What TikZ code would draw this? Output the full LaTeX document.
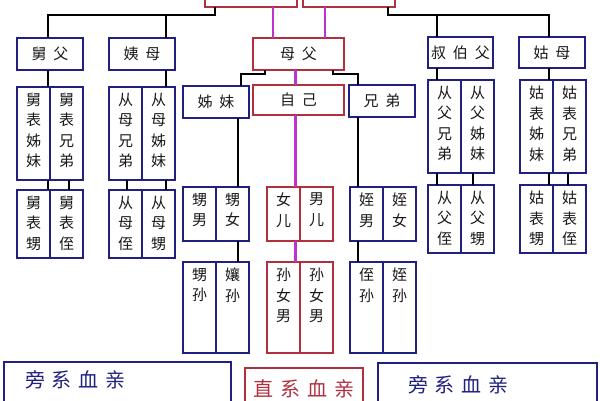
\documentclass[tikz,border=0pt]{standalone}
\usepackage{fontspec}
\newfontfamily\cjk{Noto Sans CJK SC}
\definecolor{kinblue}{RGB}{32,32,128}
\definecolor{kinred}{RGB}{176,48,64}
\definecolor{kinpink}{RGB}{190,50,205}
\definecolor{kingray}{RGB}{25,25,25}
\newcommand{\kinfont}{\cjk\fontsize{15}{20.5}\selectfont}
\newcommand{\bigkin}{\cjk\fontsize{20}{24}\selectfont}
\newcommand{\gap}{\hspace{7pt}}
\newcommand{\colbox}[2]{\parbox[c][#1][t]{33pt}{\centering\vspace*{6pt}#2}}

\begin{document}
\begin{tikzpicture}[x=1pt, y=-1pt,
  side/.style={draw=kinblue, line width=2pt, fill=white, inner sep=0pt, outer sep=0pt, text=kingray, font=\kinfont},
  direct/.style={side, draw=kinred},
  head/.style={minimum width=66pt, minimum height=32pt, anchor=north west},
  link/.style={line width=2pt, black},
  dlink/.style={line width=2.2pt, kinpink}]
\useasboundingbox (0,0) rectangle (600,400);
\clip (0,0) rectangle (600,400);

% top generation
\node[direct, minimum width=92pt, minimum height=30pt, anchor=south west] (fuqin) at (205,7) {};
\node[direct, minimum width=92pt, minimum height=30pt, anchor=south west] (muqin) at (303,7) {};

% heads
\node[side, head] (jiufu) at (17,38) {舅\gap 父};
\node[side, head] (yimu) at (109,38) {姨\gap 母};
\node[direct, head, minimum width=91pt] (mufu) at (253,38) {母\gap 父};
\node[side, head] (zimei) at (183,86) {姊\gap 妹};
\node[direct, head, minimum width=91pt, minimum height=30pt] (ziji) at (253,85) {自\gap 己};
\node[side, head] (xiongdi) at (349,85) {兄\gap 弟};
\node[side, head, minimum width=65pt, minimum height=31pt] (shubo) at (428,37) {叔\gap 伯\gap 父};
\node[side, head, minimum height=31pt] (gumu) at (519,37) {姑\gap 母};

% 舅父
\node[side, anchor=north west] (jbzm) at (17,87) {\colbox{93pt}{舅\\表\\姊\\妹}};
\node[side, anchor=north west] (jbxd) at (jbzm.north east) {\colbox{93pt}{舅\\表\\兄\\弟}};
\node[side, anchor=north west] (jbs) at (17,190) {\colbox{68pt}{舅\\表\\甥}};
\node[side, anchor=north west] (jbz) at (jbs.north east) {\colbox{68pt}{舅\\表\\侄}};
% 姨母
\node[side, anchor=north west] (cmxd) at (109,87) {\colbox{93pt}{从\\母\\兄\\弟}};
\node[side, anchor=north west] (cmzm) at (cmxd.north east) {\colbox{93pt}{从\\母\\姊\\妹}};
\node[side, anchor=north west] (cmz) at (109,190) {\colbox{68pt}{从\\母\\侄}};
\node[side, anchor=north west] (cms) at (cmz.north east) {\colbox{68pt}{从\\母\\甥}};
% 姊妹
\node[side, anchor=north west] (sn) at (183,187) {\colbox{54pt}{甥\\男}};
\node[side, anchor=north west] (snv) at (sn.north east) {\colbox{54pt}{甥\\女}};
\node[side, anchor=north west] (ss) at (183,262) {\colbox{91pt}{甥\\孙}};
\node[side, anchor=north west] (ns) at (ss.north east) {\colbox{91pt}{孃\\孙}};
% 自己
\node[direct, anchor=north west] (nver) at (267,187) {\colbox{54pt}{女\\儿}};
\node[direct, anchor=north west] (ner) at (nver.north east) {\colbox{54pt}{男\\儿}};
\node[direct, anchor=north west] (snm) at (267,262) {\colbox{91pt}{孙\\女\\男}};
\node[direct, anchor=north west] (snm2) at (snm.north east) {\colbox{91pt}{孙\\女\\男}};
% 兄弟
\node[side, anchor=north west] (zn) at (350,187) {\colbox{54pt}{姪\\男}};
\node[side, anchor=north west] (znv) at (zn.north east) {\colbox{54pt}{姪\\女}};
\node[side, anchor=north west] (zs) at (350,262) {\colbox{91pt}{侄\\孙}};
\node[side, anchor=north west] (zs2) at (zs.north east) {\colbox{91pt}{姪\\孙}};
% 叔伯父
\node[side, anchor=north west] (cfxd) at (428,80) {\colbox{93pt}{从\\父\\兄\\弟}};
\node[side, anchor=north west] (cfzm) at (cfxd.north east) {\colbox{93pt}{从\\父\\姊\\妹}};
\node[side, anchor=north west] (cfz) at (428,185) {\colbox{68pt}{从\\父\\侄}};
\node[side, anchor=north west] (cfs) at (cfz.north east) {\colbox{68pt}{从\\父\\甥}};
% 姑母
\node[side, anchor=north west] (gbzm) at (520,80) {\colbox{93pt}{姑\\表\\姊\\妹}};
\node[side, anchor=north west] (gbxd) at (gbzm.north east) {\colbox{93pt}{姑\\表\\兄\\弟}};
\node[side, anchor=north west] (gbs) at (520,185) {\colbox{68pt}{姑\\表\\甥}};
\node[side, anchor=north west] (gbz) at (gbs.north east) {\colbox{68pt}{姑\\表\\侄}};

% legend
\node[side, anchor=north west, font=\bigkin, text=kinblue] (pangL) at (4,362)
  {\parbox[c][60pt][t]{227pt}{\vspace*{9pt}\hspace*{21pt}旁\gap 系\gap 血\gap 亲}};
\node[direct, anchor=north west, font=\bigkin, text=kinred] (zhixi) at (245,368)
  {\parbox[c][50pt][t]{118pt}{\centering\vspace*{12pt}直\gap 系\gap 血\gap 亲}};
\node[side, anchor=north west, font=\bigkin, text=kinblue] (pangR) at (378,363)
  {\parbox[c][60pt][t]{219pt}{\vspace*{13pt}\hspace*{30pt}旁\gap 系\gap 血\gap 亲}};

% collateral lines
\draw[link] ([xshift=10pt]fuqin.south west) -- ++(0,8) coordinate (lknee) -| ([xshift=31pt]jiufu.north west);
\draw[link] (lknee) -| ([xshift=57pt]yimu.north west);
\draw[link] ([xshift=-7pt]muqin.south east) -- ++(0,8) coordinate (rknee) -| ([xshift=30pt]gumu.north west);
\draw[link] (rknee) -| ([xshift=9pt]shubo.north west);

\draw[link] ([xshift=31pt]jiufu.south west) coordinate (a) -- (a |- jbzm.north);
\draw[link] (a |- jbzm.south) -- (a |- jbs.north);
\draw[link] ([xshift=19pt]jbxd.south west) coordinate (a) -- (a |- jbz.north);
\draw[link] ([xshift=57pt]yimu.south west) coordinate (a) -- (a |- cmzm.north);
\draw[link] (a |- cmzm.south) -- (a |- cms.north);
\draw[link] ([xshift=18pt]cmxd.south west) coordinate (a) -- (a |- cmz.north);
\draw[link] ([xshift=9pt]shubo.south west) coordinate (a) -- (a |- cfxd.north);
\draw[link] (a |- cfxd.south) -- (a |- cfz.north);
\draw[link] ([xshift=12pt]cfzm.south west) coordinate (a) -- (a |- cfs.north);
\draw[link] ([xshift=30pt]gumu.south west) coordinate (a) -- (a |- gbzm.north);
\draw[link] (a |- gbzm.south) -- (a |- gbs.north);
\draw[link] ([xshift=15pt]gbxd.south west) coordinate (a) -- (a |- gbz.north);

\draw[link] ([xshift=12pt]mufu.south west) -- ++(0,4) -| ([xshift=58pt]zimei.north west);
\draw[link] ([xshift=-11pt]mufu.south east) -- ++(0,4) -| ([xshift=9pt]xiongdi.north west);
\draw[link] ([xshift=55pt]zimei.south west) coordinate (a) -- (a |- sn.north);
\draw[link] (a |- sn.south) -- (a |- ss.north);
\draw[link] ([xshift=9pt]xiongdi.south west) coordinate (a) -- (a |- zn.north);
\draw[link] (a |- zn.south) -- (a |- zs.north);

% direct line
\draw[dlink] ([xshift=68pt]fuqin.south west) coordinate (a) -- (a |- mufu.north);
\draw[dlink] ([xshift=22pt]muqin.south west) coordinate (a) -- (a |- mufu.north);
\draw[dlink] ([xshift=-3pt]mufu.south) coordinate (a) -- (a |- ziji.north);
\draw[dlink] (a |- ziji.south) -- (a |- nver.north);
\draw[dlink] (a |- nver.south) -- (a |- snm.north);
\end{tikzpicture}
\end{document}
